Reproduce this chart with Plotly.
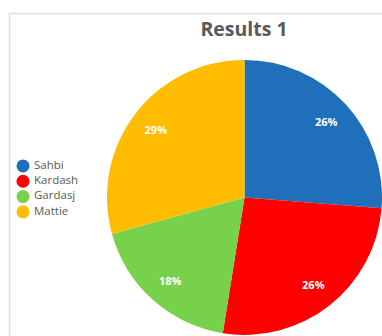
import plotly.graph_objects as go

# Survey results per person
names = ["Sahbi", "Kardash", "Gardasj", "Mattie"]
shares = [26, 26, 18, 29]
colors = ["#1F6FBA", "#FF0000", "#78D14B", "#FFBC00"]

W, H = 382, 336
pie_domain = dict(x=[107 / W, 1.0], y=[0.0, 0.825])

# coloured slices
fig = go.Figure(
    go.Pie(
        labels=names,
        values=shares,
        sort=False,
        direction="clockwise",
        rotation=0,
        marker=dict(colors=colors, line=dict(width=0)),
        textinfo="none",
        domain=pie_domain,
        showlegend=False,
        hoverinfo="label+percent",
    )
)

# percentage labels, carried by a transparent ring so they sit near the rim
fig.add_trace(
    go.Pie(
        labels=names,
        values=shares,
        sort=False,
        direction="clockwise",
        rotation=0,
        hole=0.62,
        marker=dict(colors=["rgba(0,0,0,0)"] * len(names), line=dict(width=0)),
        texttemplate="%{percent:.0%}",
        textposition="inside",
        insidetextorientation="horizontal",
        textfont=dict(family="Open Sans", size=11, color="white", weight="bold"),
        domain=pie_domain,
        showlegend=False,
        hoverinfo="skip",
    )
)

# legend: round colour keys ...
fig.add_trace(
    go.Scatter(
        x=[23] * len(names),
        y=list(range(len(names))),
        mode="markers",
        marker=dict(symbol="circle", size=13, color=colors),
        hoverinfo="skip",
        showlegend=False,
        cliponaxis=False,
    )
)
# ... with the names beside them
fig.add_trace(
    go.Scatter(
        x=[34] * len(names),
        y=list(range(len(names))),
        mode="text",
        text=names,
        textposition="middle right",
        textfont=dict(family="Open Sans", size=11.5, color="#595959"),
        hoverinfo="skip",
        showlegend=False,
        cliponaxis=False,
    )
)

# light frame around the chart area
frame = "#DEDEDE"
fig.add_shape(type="line", xref="paper", yref="paper",
              x0=9 / W, x1=1.0, y0=1 - 13.5 / H, y1=1 - 13.5 / H,
              line=dict(color=frame, width=1.5))
fig.add_shape(type="line", xref="paper", yref="paper",
              x0=9.5 / W, x1=9.5 / W, y0=0.0, y1=1 - 13.5 / H,
              line=dict(color=frame, width=1.5))

fig.update_layout(
    width=W,
    height=H,
    margin=dict(l=0, r=0, t=0, b=0),
    paper_bgcolor="white",
    plot_bgcolor="rgba(0,0,0,0)",
    title=dict(
        text="<b>Results 1</b>",
        x=244 / W,
        xanchor="center",
        y=1 - 29 / H,
        yanchor="middle",
        font=dict(family="Open Sans", size=19.5, color="#595959"),
    ),
    xaxis=dict(domain=[0, 100 / W], range=[0, 100], visible=False, fixedrange=True),
    yaxis=dict(domain=[1 - 219.5 / H, 1 - 158.3 / H], range=[3.5, -0.5],
               visible=False, fixedrange=True),
    showlegend=False,
)

fig.write_html("out.html")
